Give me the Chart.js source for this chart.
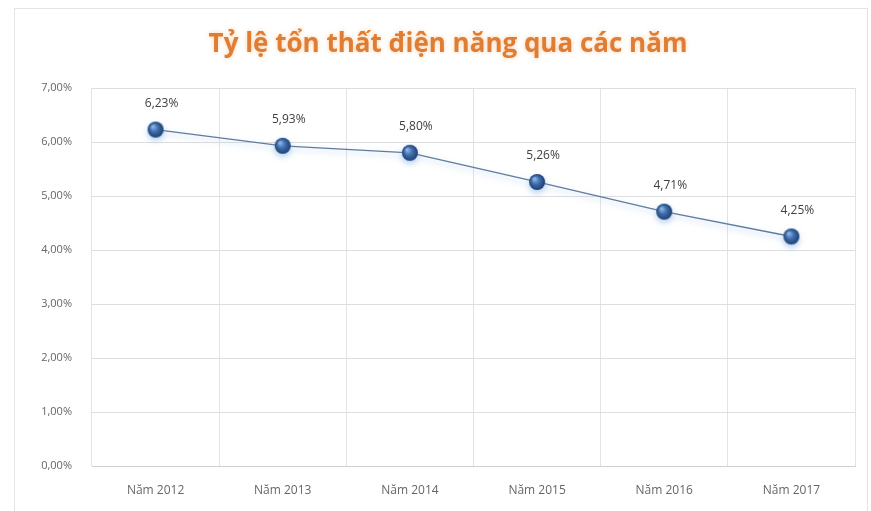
<!DOCTYPE html>
<html>
<head>
<meta charset="utf-8">
<script src="https://cdn.jsdelivr.net/npm/chart.js@4/dist/chart.umd.min.js"></script>
<style>
  html, body { margin: 0; padding: 0; background: #ffffff; }
  #wrap { width: 871px; height: 511px; position: relative; }
</style>
</head>
<body>
<div id="wrap"><canvas id="c" width="871" height="511"></canvas></div>
<script>
const titleText = "Tỷ lệ tổn thất điện năng qua các năm";
const categories = ["Năm 2012", "Năm 2013", "Năm 2014", "Năm 2015", "Năm 2016", "Năm 2017"];
const lossRate = [6.23, 5.93, 5.80, 5.26, 4.71, 4.25];
const yTicks = [0, 1, 2, 3, 4, 5, 6, 7];

function fmtPct(v) { return v.toFixed(2).replace('.', ',') + '%'; }

// sphere marker
function makeSphere(r) {
  const s = r * 2 + 4;
  const cv = document.createElement('canvas');
  cv.width = s; cv.height = s;
  const g = cv.getContext('2d');
  const c = s / 2;
  const grad = g.createRadialGradient(c - r * 0.35, c - r * 0.4, r * 0.1, c, c, r);
  grad.addColorStop(0, '#8fb2e0');
  grad.addColorStop(0.45, '#3f6fb0');
  grad.addColorStop(1, '#1f3f70');
  g.beginPath(); g.arc(c, c, r, 0, Math.PI * 2);
  g.fillStyle = grad; g.fill();
  return cv;
}
const sphere = makeSphere(8);

const decor = {
  id: 'decor',
  beforeDraw(chart) {
    const ctx = chart.ctx;
    ctx.save();
    ctx.fillStyle = '#ffffff';
    ctx.fillRect(0, 0, chart.width, chart.height);
    ctx.strokeStyle = '#e4e4e4';
    ctx.lineWidth = 1;
    ctx.strokeRect(14.5, 8.5, 853, 520);
    ctx.restore();
  },
  afterDraw(chart) {
    const ctx = chart.ctx;
    ctx.save();
    // title
    ctx.font = 'bold 26px "Open Sans", sans-serif';
    ctx.textAlign = 'center';
    ctx.textBaseline = 'middle';
    ctx.shadowColor = 'rgba(240,150,60,0.45)';
    ctx.shadowBlur = 4;
    ctx.fillStyle = '#e07d34';
    ctx.fillText(titleText, 448, 45);
    ctx.restore();
    // data labels
    ctx.save();
    ctx.font = '12px "Open Sans", sans-serif';
    ctx.textAlign = 'center';
    ctx.textBaseline = 'middle';
    ctx.fillStyle = '#404040';
    const meta = chart.getDatasetMeta(0);
    meta.data.forEach((pt, i) => {
      ctx.fillText(fmtPct(lossRate[i]), pt.x + 6, pt.y - 26);
    });
    ctx.restore();
  },
  beforeDatasetDraw(chart) {
    const ctx = chart.ctx;
    ctx.save();
    ctx.shadowColor = 'rgba(120,170,225,0.55)';
    ctx.shadowBlur = 6;
    ctx.shadowOffsetY = 3;
  },
  afterDatasetDraw(chart) {
    chart.ctx.restore();
  }
};

new Chart(document.getElementById('c'), {
  type: 'line',
  data: {
    labels: categories,
    datasets: [{
      data: lossRate,
      borderColor: '#5f7c9e',
      borderWidth: 1.3,
      pointStyle: sphere,
      pointRadius: 8,
      pointHoverRadius: 8,
      tension: 0,
      fill: false
    }]
  },
  options: {
    responsive: false,
    animation: false,
    events: [],
    layout: { padding: { left: 14, right: 16, top: 88, bottom: 0 } },
    plugins: { legend: { display: false }, title: { display: false }, tooltip: { enabled: false } },
    scales: {
      x: {
        offset: true,
        grid: { offset: true, color: '#e3e3e3', drawTicks: false },
        border: { color: '#d0d0d0' },
        ticks: { color: '#666666', font: { size: 12, family: '"Open Sans", sans-serif' }, padding: 17 },
        afterFit(s) { s.height = 45; }
      },
      y: {
        min: 0, max: 7,
        afterBuildTicks(s) { s.ticks = yTicks.map(v => ({ value: v })); },
        grid: { color: '#dedede', drawTicks: false },
        border: { display: false },
        ticks: { color: '#666666', font: { size: 11, family: '"Open Sans", sans-serif' }, padding: 20,
                 callback: v => fmtPct(v) },
        afterFit(s) { s.width = 78; }
      }
    }
  },
  plugins: [decor]
});
</script>
</body>
</html>
